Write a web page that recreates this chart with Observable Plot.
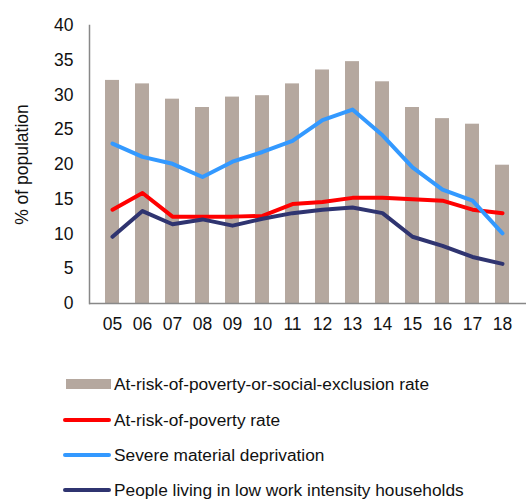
<!DOCTYPE html>
<html>
<head>
<meta charset="utf-8">
<script src="https://cdn.jsdelivr.net/npm/d3@7"></script>
<script src="https://cdn.jsdelivr.net/npm/@observablehq/plot@0.6"></script>
<style>
  body { margin: 0; background: #fff; font-family: "Liberation Sans", Arial, sans-serif; }
  #wrap { position: relative; width: 526px; height: 500px; }
  #legend { position: absolute; left: 0; top: 366px; width: 526px; }
  .item { position: absolute; left: 63px; height: 20px; display: flex; align-items: center; font-size: 17.3px; color: #111; white-space: nowrap; }
  .sw { width: 48px; margin-right: 3px; }
</style>
</head>
<body>
<div id="wrap"><div id="chart"></div><div id="legend"></div></div>
<script>
const years = ["05","06","07","08","09","10","11","12","13","14","15","16","17","18"];
const aropeRate = [32.1,31.6,29.4,28.2,29.7,29.9,31.6,33.6,34.8,31.9,28.2,26.6,25.8,19.9];
const aropRate = [13.5,15.9,12.5,12.5,12.5,12.6,14.3,14.6,15.2,15.2,15.0,14.8,13.5,13.0];
const severeDeprivation = [23.0,21.1,20.1,18.2,20.4,21.8,23.4,26.4,27.9,24.2,19.6,16.4,14.8,10.1];
const lowWorkIntensity = [9.6,13.3,11.4,12.1,11.2,12.2,13.0,13.5,13.8,13.0,9.6,8.3,6.7,5.7];
const seriesNames = ["At-risk-of-poverty-or-social-exclusion rate","At-risk-of-poverty rate","Severe material deprivation","People living in low work intensity households"];
const colors = ["#b5a89f","#ff0000","#3399ff","#2f3470"];

const bars = years.map((y,i)=>({year:y, value:aropeRate[i]}));
const lines = [aropRate, severeDeprivation, lowWorkIntensity].flatMap((arr,k)=>
  years.map((y,i)=>({year:y, value:arr[i], series:seriesNames[k+1]})));

const chart = Plot.plot({
  width: 526, height: 350,
  marginLeft: 89, marginRight: 0, marginTop: 25, marginBottom: 47,
  style: {fontFamily: '"Liberation Sans", Arial, sans-serif', fontSize: "17.5px", color: "#111", background: "#fff"},
  x: {domain: years, padding: 0.52, label: null},
  y: {domain: [0,40], ticks: d3.range(0,41,5), label: null},
  color: {domain: seriesNames, range: colors},
  marks: [
    Plot.barY(bars, {x:"year", y:"value", fill: colors[0]}),
    Plot.line(lines, {x:"year", y:"value", z:"series", stroke:"series", strokeWidth: 4, strokeLinejoin:"round", strokeLinecap:"round"}),
    Plot.ruleY([0], {stroke:"#888", strokeWidth: 1.5}),
    Plot.frame({anchor:"left", stroke:"#888", strokeWidth: 1.5}),
    Plot.axisY({tickSize: 0, tickPadding: 16, ticks: d3.range(0,41,5), label: "% of population", labelArrow: false, labelAnchor: "center", labelOffset: 74, fontSize: "17.5px"}),
    Plot.axisX({tickSize: 0, tickPadding: 14, label: null, fontSize: "17.5px"})
  ]
});
document.getElementById("chart").appendChild(chart);

const legend = document.getElementById("legend");
const tops = [8, 44, 79, 114];
seriesNames.forEach((name,i)=>{
  const it = document.createElement("div");
  it.className = "item";
  it.style.top = tops[i] + "px";
  const sw = document.createElement("span");
  sw.className = "sw";
  if (i === 0) { sw.style.height = "10px"; sw.style.background = colors[0]; sw.style.marginLeft = "3px"; sw.style.width = "45px"; }
  else { sw.style.height = "4px"; sw.style.background = colors[i]; sw.style.borderRadius = "2px"; }
  it.appendChild(sw);
  const t = document.createElement("span");
  t.textContent = name;
  it.appendChild(t);
  legend.appendChild(it);
});
</script>
</body>
</html>
